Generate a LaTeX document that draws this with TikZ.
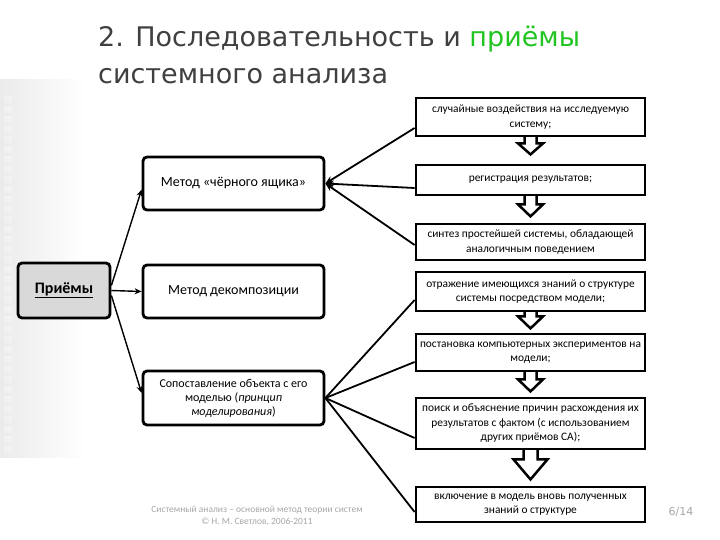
\documentclass[tikz,border=0pt]{standalone}
\usepackage{fontspec}
\setmainfont{Carlito}
\newfontfamily\titlefont{DejaVu Sans}
\usetikzlibrary{calc,arrows.meta}
\pgfdeclarelayer{bg}
\pgfsetlayers{bg,main}
\definecolor{titlegray}{HTML}{404040}
\definecolor{titlegreen}{HTML}{22C422}
\definecolor{prigray}{HTML}{D9D9D9}
\definecolor{footgray}{HTML}{A6A6A6}
\newcommand\blkarrow[5]{%
\begin{pgfonlayer}{bg}
\draw[blockarr] let \p1=(#1.south) in
 (\x1-#2pt,\y1+3pt) -- (\x1-#2pt,\y1-#4pt) -- (\x1-#3pt,\y1-#4pt) -- (\x1,\y1-#5pt)
 -- (\x1+#3pt,\y1-#4pt) -- (\x1+#2pt,\y1-#4pt) -- (\x1+#2pt,\y1+3pt);
\end{pgfonlayer}}
\begin{document}
\begin{tikzpicture}[x=1pt,y=-1pt,
 rbox/.style={draw, line width=2.8pt, fill=white, inner sep=0pt, minimum width=229pt,
   align=center, font=\fontsize{11.4}{14.5}\selectfont},
 lbox/.style={draw, line width=2.8pt, fill=white, rounded corners=4pt, inner sep=0pt,
   minimum width=181pt, minimum height=53pt, align=center,
   font=\fontsize{14}{16}\selectfont},
 conn/.style={line width=1.8pt},
 parr/.style={line width=1.4pt, -{Stealth[length=7pt,width=6pt]}},
 larr/.style={line width=1.8pt, -{Stealth[length=8pt,width=7pt]}},
 blockarr/.style={draw, line width=2.5pt, fill=white, line join=miter},
]
\useasboundingbox (0,0) rectangle (720,540);
\begin{pgfonlayer}{bg}
\shade[left color=gray!16, right color=white] (0,80) rectangle (85,457);
\foreach \yy in {96,106,...,446} \fill[white, opacity=0.3] (4,\yy) rectangle (12,\yy+7);
\end{pgfonlayer}

% title
\node[anchor=base west, inner sep=0pt, font=\titlefont\fontsize{27}{30}\selectfont, text=titlegray]
  (t1) at (98,47) {2. Последовательность и \textcolor{titlegreen}{приёмы}};
\node[anchor=base west, inner sep=0pt, font=\titlefont\fontsize{27}{30}\selectfont, text=titlegray]
  (t2) at (98,84) {системного анализа};

% left column
\node[draw, line width=2.8pt, fill=prigray, rounded corners=4pt, minimum width=92pt,
  minimum height=55pt, inner sep=0pt, font=\bfseries\fontsize{16}{18}\selectfont]
  (P) at (64,290.5) {\underline{Приёмы}};
\node[lbox] (L1) at (233.5,183.5) {Метод «чёрного ящика»};
\node[lbox] (L2) at (233.5,291.5) {Метод декомпозиции};
\node[lbox, minimum height=54pt, font=\fontsize{12}{14}\selectfont] (L3) at (233.5,398)
  {Сопоставление объекта с его\\моделью (\textit{принцип}\\\textit{моделирования})};

% right column
\node[rbox, minimum height=38pt] (b1) at (530.5,117) {случайные воздействия на исследуемую\\систему;};
\node[rbox, minimum height=30pt] (b2) at (530.5,180) {регистрация результатов;};
\node[rbox, minimum height=36pt] (b3) at (530.5,242) {синтез простейшей системы, обладающей\\аналогичным поведением};
\node[rbox, minimum height=39pt] (b4) at (530.5,291.5) {отражение имеющихся знаний о структуре\\системы посредством модели;};
\node[rbox, minimum height=37pt] (b5) at (530.5,352.5) {постановка компьютерных экспериментов на\\модели;};
\node[rbox, minimum height=51pt] (b6) at (530.5,423.5) {поиск и объяснение причин расхождения их\\результатов с фактом (с использованием\\других приёмов СА);};
\node[rbox, minimum height=35pt] (b7) at (530.5,504.5) {включение в модель вновь полученных\\знаний о структуре};

% block arrows
\blkarrow{b1}{6}{12.5}{6}{17}
\blkarrow{b2}{6}{12.5}{8}{20}
\blkarrow{b4}{6}{12.5}{4}{16}
\blkarrow{b5}{6}{12.5}{7}{19}
\blkarrow{b6}{7}{17}{9}{29}

% connectors
\draw[parr] ([yshift=5pt]P.east) -- ([yshift=-6pt]L1.west);
\draw[parr] (P.east) -- (L2.west);
\draw[parr] ([yshift=-5pt]P.east) -- ([yshift=5pt]L3.west);

\draw[larr] ([yshift=-11pt]b1.west) -- (L1.east);
\draw[larr] ([yshift=-8pt]b2.west) -- (L1.east);
\draw[larr] ([yshift=-3pt]b3.west) -- (L1.east);

\draw[conn] (L3.east) -- ([yshift=-8.5pt]b4.west);
\draw[conn] (L3.east) -- ([yshift=-9.5pt]b5.west);
\draw[conn] (L3.east) -- ([yshift=-14.5pt]b6.west);
\draw[conn] (L3.east) -- ([yshift=-7.5pt]b7.west);

% footer
\node[font=\fontsize{9.5}{12}\selectfont, text=footgray, align=center] (foot) at (257,516)
  {Системный анализ – основной метод теории систем\\© Н. М. Светлов, 2006-2011};
\node[font=\titlefont\fontsize{11}{13}\selectfont, text=footgray] (pg) at (681,512) {6/14};
\end{tikzpicture}
\end{document}
